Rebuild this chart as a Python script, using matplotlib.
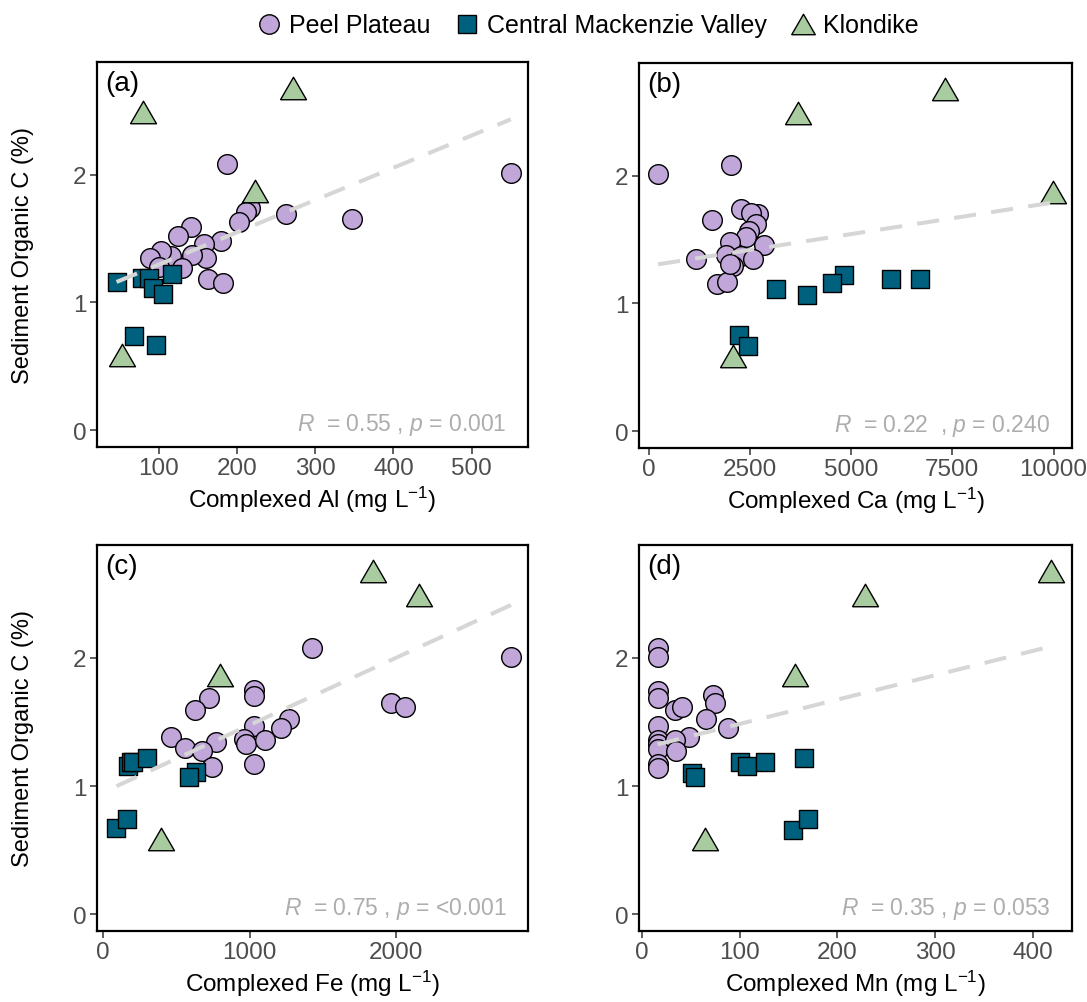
import numpy as np
import matplotlib
matplotlib.use("Agg")
import matplotlib.pyplot as plt
from matplotlib.lines import Line2D

plt.rcParams["font.family"] = ["Liberation Sans", "DejaVu Sans"]
plt.rcParams["mathtext.fontset"] = "custom"
plt.rcParams["mathtext.rm"] = "Liberation Sans"
plt.rcParams["mathtext.it"] = "Liberation Sans:italic"

# -----------------------------
# Data
# -----------------------------
groups = ["Peel Plateau", "Central Mackenzie Valley", "Klondike"]
colors = ["#C0A6D9", "#00617E", "#A8CB9F"]

klon_oc = [2.68, 2.49, 1.87, 0.59]

# (a) Al
peel_al = [187, 550, 262, 347, 217, 212, 203, 141, 125, 179, 158, 160, 143, 116, 103, 89, 130, 163, 182, 100]
peel_oc_a = [2.08, 2.01, 1.69, 1.65, 1.74, 1.71, 1.63, 1.59, 1.52, 1.48, 1.46, 1.35, 1.37, 1.36, 1.40, 1.35, 1.27, 1.18, 1.15, 1.28]
cmv_al = [46, 78, 88, 93, 105, 117, 68, 97]
cmv_oc_a = [1.16, 1.19, 1.19, 1.11, 1.07, 1.22, 0.74, 0.67]
klon_al = [272, 80, 223, 53]

# (b) Ca
peel_ca = [232, 2042, 2281, 2691, 2528, 1565, 2659, 2469, 2404, 2000, 2839, 1178, 1918, 2289, 2568, 2084, 1689, 1936, 2000]
peel_oc_b = [2.01, 2.08, 1.74, 1.70, 1.71, 1.65, 1.62, 1.57, 1.52, 1.48, 1.46, 1.35, 1.38, 1.37, 1.35, 1.29, 1.15, 1.17, 1.31]
cmv_ca = [3145, 3911, 4815, 4528, 5993, 6692, 2240, 2445]
cmv_oc_b = [1.11, 1.07, 1.22, 1.16, 1.19, 1.19, 0.75, 0.67]
klon_ca = [7326, 3679, 9975, 2084]

# (c) Fe
peel_fe = [1427, 2784, 1966, 2063, 1027, 1027, 720, 630, 1268, 1216, 1027, 466, 562, 773, 677, 961, 977, 1102, 746, 1027]
peel_oc_c = [2.08, 2.01, 1.65, 1.62, 1.75, 1.70, 1.69, 1.59, 1.52, 1.45, 1.47, 1.38, 1.30, 1.34, 1.27, 1.37, 1.33, 1.36, 1.15, 1.17]
cmv_fe = [170, 193, 205, 300, 632, 586, 91, 164]
cmv_oc_c = [1.16, 1.19, 1.19, 1.22, 1.11, 1.07, 0.67, 0.74]
klon_fe = [1845, 2159, 795, 398]

# (d) Mn
peel_mn = [16, 16, 16, 16, 16, 16, 16, 16, 16, 16, 34, 41, 73, 75, 66, 88, 48, 34, 35]
peel_oc_d = [2.08, 2.01, 1.74, 1.69, 1.47, 1.36, 1.33, 1.29, 1.17, 1.14, 1.59, 1.62, 1.71, 1.65, 1.52, 1.45, 1.38, 1.36, 1.27]
cmv_mn = [51, 54, 100, 107, 126, 166, 155, 170]
cmv_oc_d = [1.10, 1.07, 1.19, 1.16, 1.19, 1.22, 0.66, 0.74]
klon_mn = [419, 228, 157, 65]

# flat-ish triangle like ggplot shape 24
tri = [(-1, -0.866), (1, -0.866), (0, 0.866), (-1, -0.866)]
markers = ["o", "s", tri]
sizes = [200, 165, 350]

panels = [
    dict(tag="(a)", xlabel="Complexed Al (mg L$^{-1}$)",
         xs=[peel_al, cmv_al, klon_al], ys=[peel_oc_a, cmv_oc_a, klon_oc],
         xlim=(21, 572), xticks=[100, 200, 300, 400, 500],
         stat="$\\it{R}$  = 0.55 , $\\it{p}$ = 0.001"),
    dict(tag="(b)", xlabel="Complexed Ca (mg L$^{-1}$)",
         xs=[peel_ca, cmv_ca, klon_ca], ys=[peel_oc_b, cmv_oc_b, klon_oc],
         xlim=(-240, 10455), xticks=[0, 2500, 5000, 7500, 10000],
         stat="$\\it{R}$  = 0.22  , $\\it{p}$ = 0.240"),
    dict(tag="(c)", xlabel="Complexed Fe (mg L$^{-1}$)",
         xs=[peel_fe, cmv_fe, klon_fe], ys=[peel_oc_c, cmv_oc_c, klon_oc],
         xlim=(-42, 2900), xticks=[0, 1000, 2000],
         stat="$\\it{R}$  = 0.75 , $\\it{p}$ = <0.001"),
    dict(tag="(d)", xlabel="Complexed Mn (mg L$^{-1}$)",
         xs=[peel_mn, cmv_mn, klon_mn], ys=[peel_oc_d, cmv_oc_d, klon_oc],
         xlim=(-3, 440), xticks=[0, 100, 200, 300, 400],
         stat="$\\it{R}$  = 0.35 , $\\it{p}$ = 0.053"),
]

# -----------------------------
# Figure layout (pixel boxes)
# -----------------------------
W, H = 1087, 1003
fig = plt.figure(figsize=(W / 100, H / 100), dpi=100)
boxes = [(97, 63, 528, 448), (639, 64, 1072, 449), (97, 546, 528, 932), (639, 546, 1072, 932)]

for i, (p, (x0, y0, x1, y1)) in enumerate(zip(panels, boxes)):
    ax = fig.add_axes([x0 / W, 1 - y1 / H, (x1 - x0) / W, (y1 - y0) / H])

    for xv, yv, c, m, s in zip(p["xs"], p["ys"], colors, markers, sizes):
        ax.scatter(xv, yv, s=s, c=c, marker=m, edgecolors="black",
                   linewidths=1.0, zorder=2)

    # linear fit across all samples
    allx = np.concatenate([np.asarray(v, float) for v in p["xs"]])
    ally = np.concatenate([np.asarray(v, float) for v in p["ys"]])
    k, b = np.polyfit(allx, ally, 1)
    fx = np.array([allx.min(), allx.max()])
    ln, = ax.plot(fx, k * fx + b, color="#D6D6D6", lw=2.9, zorder=3)
    ln.set_dashes((5.5, 3.8))

    ax.set_xlim(*p["xlim"])
    ax.set_ylim(-0.13, 2.88)
    ax.set_xticks(p["xticks"])
    ax.set_yticks([0, 1, 2])
    ax.tick_params(axis="both", direction="out", length=5, width=1.1,
                   color="#333333", labelsize=17.5, labelcolor="#4D4D4D", pad=2.5)
    for sp in ax.spines.values():
        sp.set_linewidth(1.6)
        sp.set_color("black")

    ax.set_xlabel(p["xlabel"], fontsize=17.5, labelpad=3)
    if i % 2 == 0:
        ax.set_ylabel("Sediment Organic C (%)", fontsize=17)
        ax.yaxis.set_label_coords(-0.147, 0.5)

    ax.text(0.018, 0.978, p["tag"], transform=ax.transAxes, ha="left", va="top",
            fontsize=20)
    ax.text(0.95, 0.045, p["stat"], transform=ax.transAxes, ha="right",
            va="baseline", fontsize=16.5, color="#ADADAD")

# -----------------------------
# Shared legend
# -----------------------------
handles = [
    Line2D([], [], ls="none", marker=m, markersize=ms, markerfacecolor=c,
           markeredgecolor="black", markeredgewidth=1.0)
    for m, c, ms in zip(markers, colors, [14, 12.5, 17])
]
fig.legend(handles, groups, loc="upper center", bbox_to_anchor=(0.54, 1.008),
           ncol=3, frameon=False, fontsize=18, handletextpad=0.25,
           columnspacing=0.9, handlelength=1.1)

fig.savefig("out.png", dpi=100)
